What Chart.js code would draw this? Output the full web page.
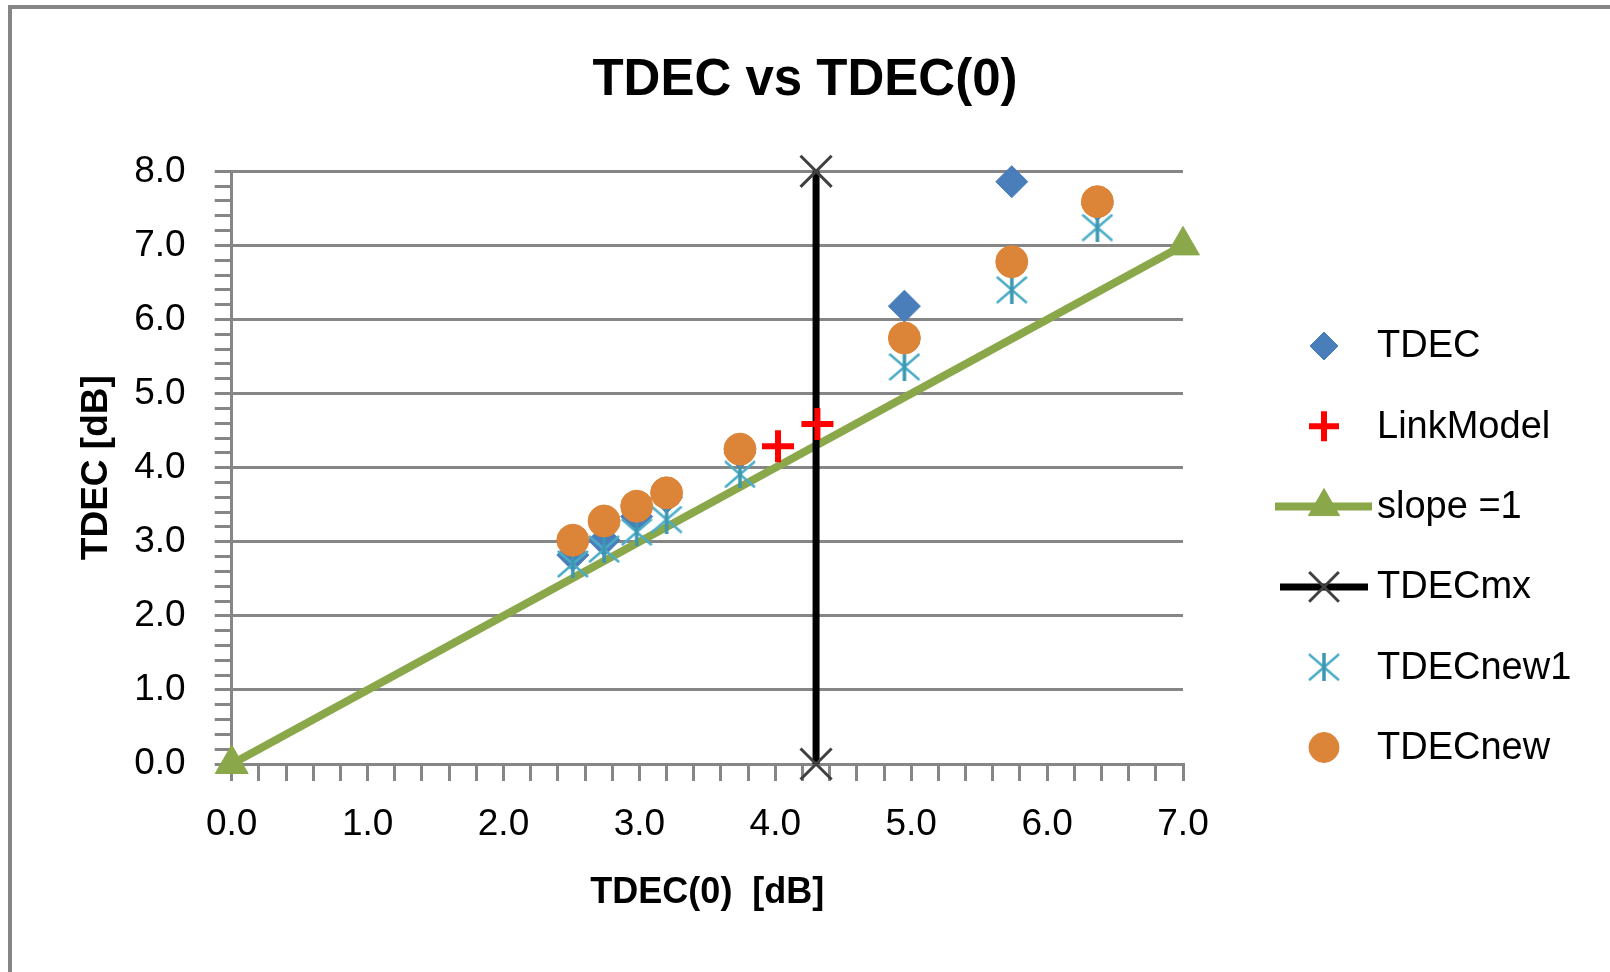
<!DOCTYPE html>
<html><head><meta charset="utf-8">
<script src="https://cdn.jsdelivr.net/npm/chart.js@4.4.1/dist/chart.umd.min.js"></script>
<style>
html,body{margin:0;padding:0;background:#fff;overflow:hidden}
#wrap{position:relative;width:1610px;height:972px;background:#fff}
#frame{position:absolute;left:8px;top:5px;right:-10px;bottom:-10px;border-left:4px solid #868686;border-top:4px solid #868686;pointer-events:none}
canvas{display:block}
</style></head>
<body><div id="wrap"><canvas id="c" width="1610" height="972"></canvas><div id="frame"></div></div>
<script>
// ---- data ----
const tdec0    = [2.51, 2.74, 2.98, 3.20, 3.74, 4.95, 5.74, 6.37];
const tdec     = [2.82, 3.02, 3.34, 3.60, 4.20, 6.18, 7.86, 7.55];
const tdecNew1 = [2.70, 2.90, 3.13, 3.30, 3.91, 5.36, 6.40, 7.24];
const tdecNew  = [3.02, 3.28, 3.48, 3.66, 4.25, 5.75, 6.78, 7.59];
const linkX = [4.02, 4.31];
const linkY = [4.29, 4.59];
const slopeX = [0, 7];
const slopeY = [0, 7];
const mxX = [4.30, 4.30];
const mxY = [0, 8];
const xTickLabels = ['0.0','1.0','2.0','3.0','4.0','5.0','6.0','7.0'];
const yTickLabels = ['0.0','1.0','2.0','3.0','4.0','5.0','6.0','7.0','8.0'];

const pts = (xs, ys) => xs.map((x, i) => ({x: x, y: ys[i]}));

const GRID = '#868686';
const FONT = "'Liberation Sans', Arial, sans-serif";
Chart.defaults.font.family = FONT;
Chart.defaults.color = '#000';

function makeAsterisk() {
  const w = 32, h = 28;
  const c = document.createElement('canvas'); c.width = w; c.height = h;
  const g = c.getContext('2d');
  g.strokeStyle = '#4BACC6'; g.lineWidth = 2.5;
  g.beginPath(); g.moveTo(1, 1); g.lineTo(w - 1, h - 1); g.moveTo(w - 1, 1); g.lineTo(1, h - 1); g.stroke();
  g.strokeStyle = '#3C97B0'; g.lineWidth = 3.5;
  g.beginPath(); g.moveTo(w / 2, 0); g.lineTo(w / 2, h); g.stroke();
  return c;
}
const asterisk = makeAsterisk();

function minorTicks(max) {
  const t = [];
  for (let i = 0; i <= max * 5; i++) t.push({value: i / 5});
  return t;
}
const isMajor = v => Math.abs(v - Math.round(v)) < 1e-6;

const legendPlugin = {
  id: 'sideLegend',
  afterDraw(chart) {
    const ctx = chart.ctx;
    chart.data.datasets.forEach((ds, i) => {
      const y = 346 + i * 80.3;
      ctx.save();
      if (ds.showLine) {
        ctx.strokeStyle = ds.borderColor; ctx.lineWidth = ds.borderWidth;
        ctx.beginPath(); ctx.moveTo(ds.legendLine[0], y); ctx.lineTo(ds.legendLine[1], y); ctx.stroke();
      }
      ctx.fillStyle = ds.pointBackgroundColor;
      ctx.strokeStyle = ds.pointBorderColor;
      ctx.lineWidth = ds.pointBorderWidth;
      Chart.helpers.drawPoint(ctx, {pointStyle: ds.pointStyle, radius: ds.legendRadius, borderWidth: ds.pointBorderWidth, rotation: 0}, 1324, y);
      ctx.fillStyle = '#000';
      ctx.font = '38px ' + FONT;
      ctx.textBaseline = 'middle'; ctx.textAlign = 'left';
      ctx.fillText(ds.label, 1377, y + 1);
      ctx.restore();
    });
  }
};

new Chart(document.getElementById('c'), {
  type: 'scatter',
  data: {
    datasets: [
      {label: 'TDEC', data: pts(tdec0, tdec), showLine: false, order: 6, clip: false,
       pointStyle: 'rectRot', pointRadius: 16, pointBackgroundColor: '#4A7EBB', pointBorderColor: '#4A7EBB', pointBorderWidth: 1, legendRadius: 14},
      {label: 'LinkModel', data: pts(linkX, linkY), showLine: false, order: 3, clip: false,
       pointStyle: 'cross', pointRadius: 16, pointBackgroundColor: '#FF0000', pointBorderColor: '#FF0000', pointBorderWidth: 6, legendRadius: 15},
      {label: 'slope =1', data: pts(slopeX, slopeY), showLine: true, order: 5, clip: false,
       borderColor: '#8AA74A', borderWidth: 8, legendLine: [1275, 1372],
       pointStyle: 'triangle', pointRadius: 19, pointBackgroundColor: '#8AA74A', pointBorderColor: '#8AA74A', pointBorderWidth: 1, legendRadius: 18},
      {label: 'TDECmx', data: pts(mxX, mxY), showLine: true, order: 4, clip: false,
       borderColor: '#000000', borderWidth: 7, legendLine: [1280, 1368],
       pointStyle: 'crossRot', pointRadius: 22, pointBackgroundColor: '#404040', pointBorderColor: '#404040', pointBorderWidth: 3, legendRadius: 21},
      {label: 'TDECnew1', data: pts(tdec0, tdecNew1), showLine: false, order: 2, clip: false,
       pointStyle: asterisk, pointRadius: 15, pointBackgroundColor: '#4BACC6', pointBorderColor: '#4BACC6', pointBorderWidth: 1, legendRadius: 15},
      {label: 'TDECnew', data: pts(tdec0, tdecNew), showLine: false, order: 1, clip: false,
       pointStyle: 'circle', pointRadius: 16, pointBackgroundColor: '#DC8438', pointBorderColor: '#DC8438', pointBorderWidth: 1, legendRadius: 15}
    ]
  },
  options: {
    responsive: false,
    animation: false,
    events: [],
    layout: {padding: 0},
    plugins: {
      legend: {display: false},
      tooltip: {enabled: false},
      title: {display: true, text: 'TDEC vs TDEC(0)', color: '#000', fullSize: true,
              font: {size: 51, weight: 'bold', family: FONT}, padding: {top: 50, bottom: 60.1}}
    },
    scales: {
      x: {
        type: 'linear', min: 0, max: 7,
        afterFit: s => { s.height = 208; },
        afterBuildTicks: s => { s.ticks = minorTicks(7); },
        ticks: {autoSkip: false, maxRotation: 0, padding: 22, color: '#000', font: {size: 37},
                callback: v => isMajor(v) ? xTickLabels[Math.round(v)] : ''},
        grid: {drawOnChartArea: false, drawTicks: true, tickLength: 17, tickColor: GRID, lineWidth: 3, color: GRID},
        border: {color: GRID, width: 3},
        title: {display: true, text: 'TDEC(0)  [dB]', color: '#000', font: {size: 36, weight: 'bold'}, padding: {top: 0, bottom: 57}}
      },
      y: {
        type: 'linear', min: 0, max: 8,
        afterFit: s => { s.width = 231.7; },
        afterBuildTicks: s => { s.ticks = minorTicks(8); },
        ticks: {autoSkip: false, padding: 29, color: '#000', font: {size: 37},
                callback: v => isMajor(v) ? yTickLabels[Math.round(v)] : ''},
        grid: {drawOnChartArea: true, drawTicks: true, tickLength: 17, tickColor: GRID, lineWidth: 3,
               color: c => (c.tick && isMajor(c.tick.value)) ? GRID : 'rgba(0,0,0,0)'},
        border: {color: GRID, width: 3},
        title: {display: true, text: 'TDEC [dB]', color: '#000', font: {size: 37, weight: 'bold'}, padding: {top: 75, bottom: 0}}
      },
      legendSpace: {
        type: 'linear', position: 'right', min: 0, max: 8,
        afterFit: s => { s.width = 427; },
        ticks: {display: false},
        grid: {display: false, drawOnChartArea: false},
        border: {display: false},
        title: {display: false}
      }
    }
  },
  plugins: [legendPlugin]
});
</script>
</body></html>
